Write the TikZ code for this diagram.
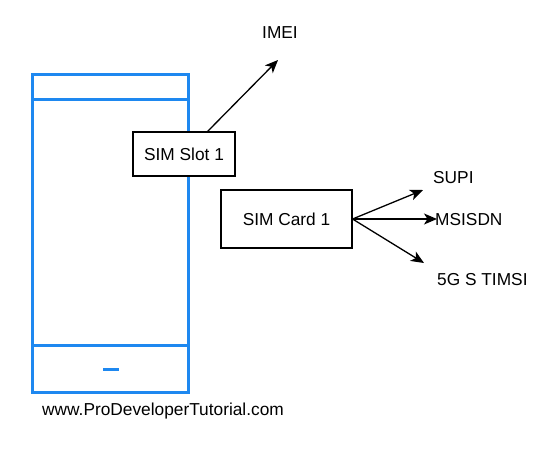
\documentclass[tikz,border=0pt]{standalone}
\usepackage{fontspec}
\setmainfont{Liberation Sans}
\usetikzlibrary{arrows.meta}
\definecolor{phoneblue}{RGB}{30,136,240}
\begin{document}
\begin{tikzpicture}[x=1pt,y=-1pt,
  lbl/.style={font=\fontsize{17.3}{20}\selectfont,inner sep=0pt,anchor=base west},
  boxnode/.style={draw=black,line width=1.1pt,fill=white,font=\fontsize{17.3}{20}\selectfont,inner sep=0pt},
  phoneline/.style={draw=phoneblue,line width=3pt},
  arr/.style={line width=1.3pt,-{Stealth[length=13pt,width=11pt,inset=3.5pt]}}]
\useasboundingbox (0,0) rectangle (544,448);
% phone
\node[phoneline,minimum width=156pt,minimum height=317.5pt,inner sep=0pt] (phone) at (110.5,233.25) {};
\coordinate (tl) at (32.5,99.5);
\coordinate (tr) at (188.5,99.5);
\coordinate (bl) at (32.5,345.5);
\coordinate (br) at (188.5,345.5);
\draw[phoneline] (tl) -- (tr);
\draw[phoneline] (bl) -- (br);
\coordinate (h1) at (103,369.5);
\coordinate (h2) at (119,369.5);
\draw[draw=phoneblue,line width=2.5pt] (h1) -- (h2);
% boxes
\node[boxnode,minimum width=102pt,minimum height=44pt] (slot) at (184,154) {SIM Slot 1};
\node[boxnode,minimum width=131pt,minimum height=58pt] (card) at (286.5,219) {SIM Card 1};
% labels
\node[lbl] (imei) at (262,38) {IMEI};
\node[lbl] (supi) at (433,183) {SUPI};
\node[lbl] (msisdn) at (435,225) {MSISDN};
\node[lbl] (timsi) at (437,285) {5G S TIMSI};
\node[lbl] (web) at (42,415) {www.ProDeveloperTutorial.com};
% arrow ends
\coordinate (imeiend) at (278,60);
\coordinate (supiend) at (423,190);
\coordinate (msisdnend) at (437,219);
\coordinate (timsiend) at (424,263);
\draw[arr] ([xshift=-28pt]slot.north east) -- (imeiend);
\draw[arr] (card.east) -- (supiend);
\draw[arr] (card.east) -- (msisdnend);
\draw[arr] (card.east) -- (timsiend);
\end{tikzpicture}
\end{document}
